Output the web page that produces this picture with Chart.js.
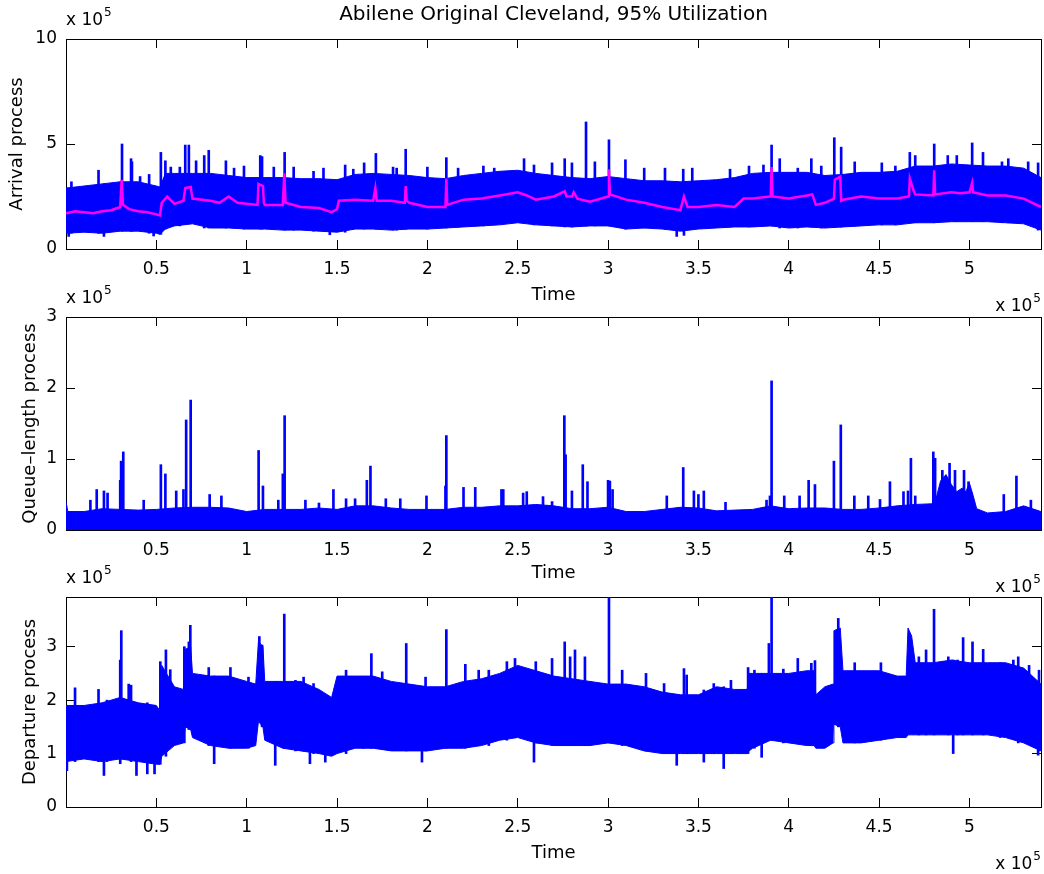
<!DOCTYPE html>
<html>
<head>
<meta charset="utf-8">
<script src="https://cdn.jsdelivr.net/npm/chart.js@4.4.0/dist/chart.umd.min.js"></script>
<style>
  html, body { margin: 0; padding: 0; background: #fff; }
  #wrap { position: relative; width: 1044px; height: 874px; }
  #wrap canvas { position: absolute; left: 0; top: 0; }
</style>
</head>
<body>
<div id="wrap">
  <canvas id="c1" width="1044" height="874"></canvas>
  <canvas id="c2" width="1044" height="874"></canvas>
  <canvas id="c3" width="1044" height="874"></canvas>
</div>
<script>
// ---------- DATA (time and values in units of 10^5) ----------
const chartTitle = 'Abilene Original Cleveland, 95% Utilization';
const xTicks = [0.5, 1, 1.5, 2, 2.5, 3, 3.5, 4, 4.5, 5];
const xMax = 5.396;

// Arrival process: band envelopes
const arrivalT  = [0,0.1,0.2,0.3,0.4,0.5,0.52,0.55,0.6,0.7,0.8,0.9,1.0,1.1,1.2,1.3,1.4,1.5,1.6,1.7,1.8,1.9,2.0,2.1,2.2,2.3,2.4,2.5,2.6,2.7,2.8,2.9,3.0,3.1,3.2,3.3,3.4,3.5,3.6,3.7,3.8,3.9,4.0,4.1,4.2,4.3,4.4,4.5,4.6,4.7,4.8,4.9,5.0,5.1,5.2,5.3,5.396];
const arrivalHi = [2.9,3.0,3.1,3.2,3.2,3.0,2.95,3.6,3.6,3.6,3.6,3.5,3.4,3.4,3.4,3.35,3.35,3.3,3.55,3.6,3.55,3.5,3.4,3.35,3.5,3.6,3.7,3.75,3.6,3.5,3.4,3.35,3.45,3.35,3.25,3.25,3.2,3.25,3.3,3.4,3.6,3.65,3.65,3.65,3.5,3.55,3.65,3.65,3.7,3.95,3.95,4.05,4.0,3.95,3.95,3.85,3.4];
const arrivalLo = [0.75,0.8,0.75,0.85,0.85,0.75,0.7,0.95,1.1,1.2,1.0,1.0,0.95,0.95,0.9,0.9,0.85,0.8,0.95,0.95,0.9,0.95,0.95,1.0,1.05,1.1,1.15,1.25,1.15,1.1,1.05,1.1,1.1,0.95,1.0,0.95,0.85,0.95,1.0,1.05,1.05,1.1,1.0,1.05,1.0,1.05,1.1,1.15,1.15,1.25,1.25,1.3,1.3,1.3,1.25,1.2,0.9];
const arrivalSpikeT = [0.03,0.18,0.31,0.36,0.365,0.41,0.46,0.525,0.55,0.58,0.63,0.66,0.68,0.72,0.765,0.79,0.885,0.93,0.985,1.075,1.085,1.15,1.21,1.26,1.37,1.425,1.545,1.59,1.65,1.715,1.81,1.83,1.88,2.0,2.105,2.17,2.31,2.37,2.535,2.59,2.69,2.76,2.80,2.878,2.927,3.005,3.096,3.2,3.315,3.416,3.466,3.675,3.78,3.86,3.905,3.95,4.05,4.125,4.18,4.252,4.29,4.365,4.515,4.59,4.67,4.70,4.805,4.88,4.93,5.015,5.075,5.18,5.215,5.325,5.38];
const arrivalSpikeV = [3.2,3.75,5.0,4.3,4.15,3.45,3.55,4.6,4.2,3.9,3.9,4.95,4.95,4.2,4.45,4.7,4.2,3.85,3.95,4.45,4.4,3.9,4.6,3.9,3.7,3.85,4.0,3.8,4.1,4.55,3.9,3.85,4.75,3.9,4.35,3.85,3.95,3.85,4.3,4.0,4.1,4.3,4.1,6.05,4.15,5.2,4.25,3.85,3.85,3.8,3.85,3.8,3.95,4.0,4.95,4.3,3.85,4.3,3.95,5.3,4.85,4.15,4.1,3.95,4.6,4.45,5.0,4.45,4.45,5.05,4.6,4.15,4.3,4.15,4.1];
const arrivalDipT = [0.015,0.21,0.485,1.46,3.38,3.42];
const arrivalDipV = [0.6,0.6,0.62,0.68,0.6,0.65];
// Arrival process: smoothed (magenta) trace
const meanT = [0,0.05,0.1,0.15,0.2,0.25,0.3,0.308,0.315,0.35,0.4,0.45,0.5,0.52,0.53,0.56,0.6,0.65,0.66,0.69,0.70,0.8,0.85,0.9,0.95,1.0,1.06,1.065,1.09,1.095,1.1,1.2,1.208,1.215,1.3,1.4,1.47,1.5,1.51,1.6,1.7,1.712,1.72,1.8,1.875,1.88,1.885,1.9,2.0,2.1,2.105,2.11,2.2,2.3,2.4,2.5,2.55,2.6,2.7,2.76,2.77,2.8,2.81,2.83,2.9,3.0,3.005,3.01,3.1,3.2,3.3,3.4,3.42,3.44,3.5,3.6,3.7,3.75,3.8,3.9,3.905,3.91,4.0,4.1,4.13,4.15,4.2,4.25,4.255,4.285,4.29,4.3,4.4,4.5,4.6,4.665,4.67,4.69,4.7,4.8,4.805,4.81,4.9,4.95,5.0,5.015,5.02,5.1,5.2,5.3,5.396];
const meanV = [1.7,1.8,1.75,1.7,1.8,1.85,2.0,3.3,2.1,1.9,1.8,1.75,1.65,1.6,2.2,2.5,2.15,2.3,2.9,2.95,2.4,2.3,2.2,2.5,2.2,2.15,2.1,3.1,3.0,2.2,2.1,2.1,3.6,2.2,2.0,1.95,1.75,1.9,2.3,2.35,2.3,2.9,2.3,2.3,2.2,3.0,2.3,2.2,2.0,2.0,3.35,2.1,2.35,2.4,2.55,2.7,2.55,2.35,2.5,2.75,2.5,2.5,2.7,2.4,2.25,2.5,3.8,2.6,2.35,2.2,2.0,1.85,2.5,2.0,2.0,2.1,2.0,2.4,2.4,2.5,3.9,2.5,2.4,2.55,2.6,2.1,2.2,2.4,3.3,3.45,2.3,2.35,2.5,2.4,2.4,2.5,3.35,2.8,2.6,2.55,3.75,2.6,2.7,2.65,2.7,3.15,2.7,2.55,2.55,2.4,2.0];

// Queue-length process
const queueT  = [0,0.01,0.1,0.2,0.3,0.4,0.5,0.6,0.7,0.8,0.9,1.0,1.1,1.2,1.3,1.4,1.5,1.6,1.7,1.8,1.9,2.0,2.1,2.2,2.3,2.4,2.5,2.6,2.7,2.8,2.9,3.0,3.1,3.2,3.3,3.4,3.5,3.6,3.7,3.8,3.9,4.0,4.1,4.2,4.3,4.4,4.5,4.6,4.7,4.8,4.82,4.84,4.87,4.9,4.93,4.96,4.98,5.0,5.02,5.04,5.1,5.2,5.3,5.396];
const queueHi = [0.4,0.26,0.26,0.3,0.29,0.28,0.29,0.31,0.32,0.32,0.31,0.26,0.29,0.29,0.29,0.31,0.29,0.34,0.34,0.31,0.29,0.29,0.29,0.32,0.32,0.34,0.34,0.36,0.34,0.3,0.3,0.32,0.26,0.26,0.29,0.32,0.31,0.27,0.28,0.29,0.34,0.3,0.31,0.31,0.29,0.29,0.31,0.34,0.36,0.37,0.49,0.69,0.78,0.64,0.54,0.59,0.54,0.66,0.49,0.3,0.24,0.26,0.34,0.26];
const queueSpikeT = [0.135,0.17,0.21,0.23,0.30,0.305,0.317,0.43,0.525,0.55,0.61,0.65,0.665,0.69,0.795,0.86,1.066,1.09,1.175,1.2,1.21,1.325,1.4,1.48,1.55,1.6,1.665,1.685,1.77,1.85,1.995,2.1,2.105,2.2,2.265,2.41,2.42,2.53,2.55,2.64,2.69,2.758,2.765,2.80,2.86,2.886,3.0,3.01,3.025,3.325,3.416,3.475,3.5,3.53,3.65,3.877,3.896,3.905,3.975,4.06,4.11,4.145,4.25,4.288,4.363,4.44,4.505,4.56,4.635,4.66,4.676,4.7,4.8,4.81,4.85,4.89,4.92,4.97,4.995,5.19,5.26,5.34];
const queueSpikeV = [0.42,0.57,0.55,0.52,0.7,0.97,1.1,0.42,0.92,0.79,0.55,0.57,1.55,1.83,0.5,0.48,1.12,0.62,0.42,0.79,1.61,0.42,0.38,0.57,0.44,0.44,0.7,0.9,0.44,0.44,0.48,0.62,1.33,0.6,0.6,0.57,0.57,0.52,0.54,0.47,0.4,1.61,1.06,0.55,0.92,0.68,0.7,0.69,0.57,0.48,0.88,0.55,0.5,0.55,0.39,0.42,0.48,2.1,0.48,0.48,0.7,0.64,0.97,1.48,0.48,0.48,0.43,0.68,0.54,0.55,1.01,0.48,1.1,1.01,0.84,0.94,0.84,0.84,0.68,0.5,0.76,0.42];

// Departure process
const departT  = [0,0.1,0.2,0.3,0.4,0.5,0.52,0.53,0.6,0.65,0.66,0.69,0.7,0.8,0.9,1.0,1.05,1.065,1.09,1.1,1.2,1.3,1.4,1.47,1.5,1.6,1.7,1.8,1.9,2.0,2.1,2.2,2.3,2.4,2.5,2.6,2.7,2.8,2.9,3.0,3.1,3.2,3.3,3.4,3.5,3.6,3.7,3.77,3.78,3.8,3.9,4.0,4.1,4.14,4.15,4.2,4.245,4.25,4.285,4.3,4.4,4.5,4.6,4.65,4.66,4.68,4.7,4.8,4.9,5.0,5.1,5.2,5.3,5.396];
const departHi = [1.9,1.9,1.95,2.05,1.95,1.9,1.8,2.65,2.25,2.2,2.95,3.0,2.5,2.45,2.45,2.35,2.3,3.1,3.0,2.35,2.35,2.35,2.2,2.05,2.45,2.45,2.45,2.35,2.3,2.25,2.25,2.35,2.4,2.5,2.65,2.55,2.45,2.4,2.35,2.3,2.3,2.25,2.15,2.1,2.1,2.25,2.2,2.2,2.5,2.5,2.5,2.5,2.55,2.55,2.1,2.25,2.3,3.3,3.35,2.55,2.55,2.55,2.45,2.45,3.35,3.2,2.7,2.7,2.75,2.7,2.7,2.7,2.6,2.3];
const departLo = [0.85,0.9,0.85,0.9,0.85,0.8,0.8,0.95,1.15,1.2,1.5,1.45,1.3,1.15,1.1,1.1,1.15,1.6,1.5,1.25,1.1,1.05,1.0,0.95,1.0,1.1,1.1,1.05,1.05,1.05,1.1,1.1,1.15,1.25,1.3,1.2,1.15,1.15,1.15,1.2,1.15,1.05,1.0,1.0,1.0,1.0,1.0,1.0,1.05,1.1,1.25,1.2,1.15,1.15,1.1,1.1,1.2,1.55,1.5,1.2,1.2,1.25,1.3,1.3,1.35,1.35,1.35,1.35,1.35,1.35,1.35,1.3,1.2,1.05];
const departSpikeT = [0.05,0.18,0.227,0.30,0.306,0.347,0.36,0.522,0.553,0.577,0.655,0.68,0.688,0.79,0.91,1.01,1.07,1.085,1.127,1.208,1.27,1.315,1.37,1.55,1.646,1.69,1.75,1.883,1.99,2.105,2.21,2.284,2.34,2.44,2.485,2.6,2.69,2.76,2.79,2.817,2.872,3.005,3.078,3.21,3.31,3.42,3.435,3.53,3.585,3.68,3.775,3.81,3.89,3.905,3.97,4.05,4.125,4.145,4.274,4.365,4.51,4.72,4.76,4.804,4.883,4.934,4.965,5.017,5.076,5.17,5.243,5.27,5.33,5.385];
const departSpikeV = [2.23,2.2,2.0,2.75,3.3,2.3,2.28,2.72,2.94,2.57,3.0,3.09,3.4,2.61,2.61,2.43,3.19,3.03,2.28,3.61,2.37,2.43,2.31,2.56,2.43,2.87,2.53,3.06,2.43,3.32,2.67,2.56,2.56,2.72,2.78,2.72,2.78,3.09,2.81,2.94,2.81,3.94,2.56,2.5,2.31,2.59,2.47,2.19,2.31,2.37,2.61,2.56,3.06,3.94,2.58,2.78,2.69,2.74,3.53,2.7,2.7,2.81,2.94,3.7,2.81,2.75,3.17,3.09,2.95,2.7,2.75,2.81,2.65,2.56];
const departDipT = [0.005,0.21,0.30,0.39,0.45,0.49,0.82,1.158,1.35,1.435,1.97,2.59,3.38,3.53,3.64,3.85,4.91,5.38];
const departDipV = [0.68,0.59,0.81,0.59,0.62,0.62,0.81,0.78,0.81,0.84,0.84,0.84,0.78,0.84,0.72,0.93,1.0,0.97];

const arrivalYTicks = [0, 5, 10];
const queueYTicks = [0, 1, 2, 3];
const departYTicks = [0, 1, 2, 3];

// ---------- RENDERING ----------
const BLUE = '#0000ff', MAGENTA = '#ff00ff', FONT = 'DejaVu Sans';
const TICK_IN = -9;

function pts(T, V) { return T.map((t, i) => ({ x: t, y: V[i] })); }
function nearest(T, V, t) {
  let b = 0;
  for (let i = 1; i < T.length; i++) if (Math.abs(T[i] - t) < Math.abs(T[b] - t)) b = i;
  return V[b];
}
function barsFrom(T, V, baseFn) { return T.map((t, i) => ({ x: t, y: [baseFn(t), V[i]] })); }

function bandSets(T, Hi, Lo) {
  return [
    { type: 'line', data: pts(T, Hi), borderColor: BLUE, backgroundColor: BLUE, borderWidth: 1, pointRadius: 0, tension: 0, fill: '+1', order: 3 },
    { type: 'line', data: pts(T, Lo), borderColor: BLUE, backgroundColor: BLUE, borderWidth: 1, pointRadius: 0, tension: 0, fill: false, order: 3 }
  ];
}
function spikeSet(data) {
  return { type: 'bar', data: data, backgroundColor: BLUE, borderWidth: 0, barThickness: 2, grouped: false, order: 2 };
}

function drawMult(ctx, x, y, align) {
  ctx.font = '17px "DejaVu Sans"';
  const w1 = ctx.measureText('x 10').width;
  ctx.font = '12px "DejaVu Sans"';
  const w2 = ctx.measureText('5').width;
  const sx = align === 'left' ? x : x - (w1 + 1 + w2);
  ctx.textAlign = 'left';
  ctx.textBaseline = 'middle';
  ctx.fillStyle = '#000';
  ctx.font = '17px "DejaVu Sans"';
  ctx.fillText('x 10', sx, y);
  ctx.font = '12px "DejaVu Sans"';
  ctx.fillText('5', sx + w1 + 1, y - 8);
}

function makeLabels(title) {
  return {
    id: 'extraText',
    afterDraw(chart) {
      const ctx = chart.ctx;
      const a = chart.chartArea;
      ctx.save();
      drawMult(ctx, a.left, a.top - 18, 'left');
      drawMult(ctx, a.right, a.bottom + 58, 'right');
      if (title) {
        ctx.font = '20px "DejaVu Sans"';
        ctx.textAlign = 'center';
        ctx.textBaseline = 'middle';
        ctx.fillStyle = '#000';
        ctx.fillText(title, (a.left + a.right) / 2, 15);
      }
      ctx.restore();
    }
  };
}

const axisGrid = { display: true, offset: false, drawOnChartArea: false, drawTicks: true, tickLength: TICK_IN, color: '#000', lineWidth: 1 };
const axisBorder = { display: true, color: '#000', width: 1 };

function makeChart(id, p) {
  const setX = s => { s.ticks = xTicks.map(v => ({ value: v })); };
  const setY = s => { s.ticks = p.yTicks.map(v => ({ value: v })); };
  return new Chart(document.getElementById(id), {
    type: 'line',
    data: { datasets: p.datasets },
    options: {
      responsive: false,
      animation: false,
      events: [],
      layout: { padding: { left: 0, right: 3, top: p.top, bottom: 874 - p.bottom - 60 } },
      plugins: { legend: { display: false }, tooltip: { enabled: false } },
      scales: {
        x: {
          type: 'linear', position: 'bottom', min: 0, max: xMax, offset: false,
          grid: axisGrid, border: axisBorder,
          afterBuildTicks: setX,
          afterFit: s => { s.height = 60; },
          ticks: { padding: 19, color: '#000', font: { family: FONT, size: 17 }, maxRotation: 0, autoSkip: false, callback: v => String(v) },
          title: { display: true, text: 'Time', color: '#000', font: { family: FONT, size: 18 }, padding: { top: 0, bottom: p.xTitlePad } }
        },
        xTop: {
          type: 'linear', axis: 'x', position: 'top', min: 0, max: xMax, offset: false,
          grid: axisGrid, border: axisBorder,
          afterBuildTicks: setX,
          afterFit: s => { s.height = 0; },
          ticks: { display: false }
        },
        y: {
          type: 'linear', position: 'left', min: 0, max: p.yMax,
          grid: axisGrid, border: axisBorder,
          afterBuildTicks: setY,
          afterFit: s => { s.width = 66; },
          ticks: { padding: 18, color: '#000', font: { family: FONT, size: 17 }, autoSkip: false, callback: v => String(v) },
          title: { display: true, text: p.yTitle, color: '#000', font: { family: FONT, size: 18 }, padding: { top: p.yTitlePad, bottom: 0 } }
        },
        yRight: {
          type: 'linear', axis: 'y', position: 'right', min: 0, max: p.yMax,
          grid: axisGrid, border: axisBorder,
          afterBuildTicks: setY,
          afterFit: s => { s.width = 0; },
          ticks: { display: false }
        }
      }
    },
    plugins: [makeLabels(p.title)]
  });
}

// Arrival
makeChart('c1', {
  top: 39, bottom: 249, yMax: 10, yTicks: arrivalYTicks, yTitle: 'Arrival process', yTitlePad: 6.7, xTitlePad: 3.2, title: chartTitle,
  datasets: [
    { type: 'line', data: pts(meanT, meanV), borderColor: MAGENTA, borderWidth: 2.5, pointRadius: 0, tension: 0, fill: false, order: 0 },
    ...bandSets(arrivalT, arrivalHi, arrivalLo),
    spikeSet(barsFrom(arrivalSpikeT, arrivalSpikeV, t => nearest(arrivalT, arrivalLo, t))),
    spikeSet(barsFrom(arrivalDipT, arrivalDipV, t => nearest(arrivalT, arrivalHi, t)))
  ]
});

// Queue length
makeChart('c2', {
  top: 317, bottom: 530, yMax: 3, yTicks: queueYTicks, yTitle: 'Queue\u2013length process', yTitlePad: 19.2, xTitlePad: 6.2,
  datasets: [
    { type: 'line', data: pts(queueT, queueHi), borderColor: BLUE, backgroundColor: BLUE, borderWidth: 1, pointRadius: 0, tension: 0, fill: 'origin', order: 3 },
    spikeSet(barsFrom(queueSpikeT, queueSpikeV, t => 0))
  ]
});

// Departure
makeChart('c3', {
  top: 597, bottom: 807, yMax: 3.93, yTicks: departYTicks, yTitle: 'Departure process', yTitlePad: 19.2, xTitlePad: 3.2,
  datasets: [
    ...bandSets(departT, departHi, departLo),
    spikeSet(barsFrom(departSpikeT, departSpikeV, t => nearest(departT, departLo, t))),
    spikeSet(barsFrom(departDipT, departDipV, t => nearest(departT, departHi, t)))
  ]
});
</script>
</body>
</html>
